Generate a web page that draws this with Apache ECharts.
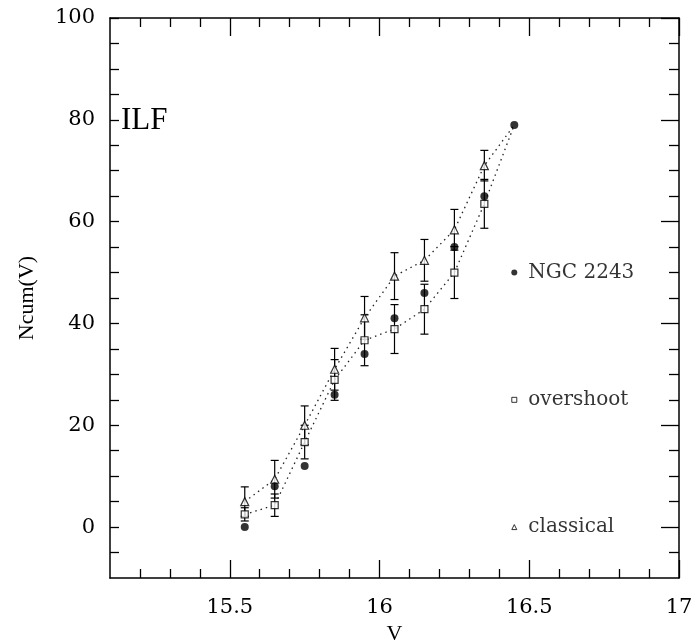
<!DOCTYPE html>
<html>
<head>
  <meta charset="UTF-8">
  <title>ILF - Ncum(V)</title>
  <script src="https://cdn.jsdelivr.net/npm/echarts@6/dist/echarts.min.js"></script>
  <style>
    html, body { margin: 0; padding: 0; background: #fff; }
    #chart { width: 696px; height: 643px; }
  </style>
</head>
<body>
  <div id="chart"></div>
  <script>
    // magnitude bins
    const vBins = [15.55, 15.65, 15.75, 15.85, 15.95, 16.05, 16.15, 16.25, 16.35, 16.45];
    // NGC 2243 observed counts (filled dots)
    const ngcCounts = [0, 8, 12, 26, 34, 41, 46, 55, 65, 79];
    // overshoot models (squares) and their errors
    const overshootCounts = [2.5, 4.3, 16.7, 28.9, 36.7, 38.9, 42.8, 50.0, 63.5, 79];
    const overshootErr = [1.3, 2.2, 3.3, 4.0, 5.0, 4.8, 4.9, 5.1, 4.8];
    // classical models (triangles) and their errors
    const classicalCounts = [5.0, 9.4, 20.0, 31.0, 41.1, 49.3, 52.4, 58.4, 71.0, 79];
    const classicalErr = [2.9, 3.7, 3.8, 4.1, 4.2, 4.6, 4.1, 4.0, 3.0];

    // in-plot legend
    const legendNames = ['NGC 2243', 'overshoot', 'classical'];
    const legendX = 16.45;
    const legendY = [50, 25, 0];

    // ticks
    const xMajor = [15.5, 16, 16.5, 17];
    const xMinor = [15.2, 15.3, 15.4, 15.6, 15.7, 15.8, 15.9, 16.1, 16.2, 16.3, 16.4, 16.6, 16.7, 16.8, 16.9];
    const yMajor = [0, 20, 40, 60, 80, 100];
    const yMinor = [-5, 5, 10, 15, 25, 30, 35, 45, 50, 55, 65, 70, 75, 85, 90, 95];
    const yAll = [-5, 0, 5, 10, 15, 20, 25, 30, 35, 40, 45, 50, 55, 60, 65, 70, 75, 80, 85, 90, 95, 100];

    const numFont = 'DejaVu Serif';
    const txtFont = 'Liberation Serif';

    function errData(vals, errs) {
      return errs.map((e, i) => [vBins[i], vals[i] - e, vals[i] + e]);
    }

    function renderErr(params, api) {
      const x = api.value(0);
      const p1 = api.coord([x, api.value(2)]);
      const p2 = api.coord([x, api.value(1)]);
      const w = 4;
      const st = { stroke: '#000', lineWidth: 1.2 };
      return {
        type: 'group',
        children: [
          { type: 'line', shape: { x1: p1[0], y1: p1[1], x2: p2[0], y2: p2[1] }, style: st },
          { type: 'line', shape: { x1: p1[0] - w, y1: p1[1], x2: p1[0] + w, y2: p1[1] }, style: st },
          { type: 'line', shape: { x1: p2[0] - w, y1: p2[1], x2: p2[0] + w, y2: p2[1] }, style: st }
        ]
      };
    }

    function xAxisDef(pos, vals, len, labels) {
      return {
        type: 'value', position: pos, min: 15.1, max: 17,
        axisLine: { show: labels, onZero: false, lineStyle: { color: '#000', width: 1.5 } },
        axisTick: { show: true, inside: true, length: len, customValues: vals, lineStyle: { color: '#000', width: 1.3 } },
        axisLabel: labels ? { show: true, customValues: vals, margin: 19, color: '#000', fontFamily: numFont, fontSize: 21 } : { show: false },
        splitLine: { show: false }
      };
    }

    function yAxisDef(pos, vals, len, labels) {
      return {
        type: 'value', position: pos, min: -10, max: 100,
        axisLine: { show: labels || pos === 'right' && len > 12, onZero: false, lineStyle: { color: '#000', width: 1.5 } },
        axisTick: { show: true, inside: true, length: len, customValues: vals, lineStyle: { color: '#000', width: 1.3 } },
        axisLabel: labels ? { show: true, customValues: yMajor, margin: 15, color: '#000', fontFamily: numFont, fontSize: 21 } : { show: false },
        splitLine: { show: false }
      };
    }

    const xAxes = [
      xAxisDef('bottom', xMajor, 18, true),
      xAxisDef('bottom', xMinor, 9, false),
      xAxisDef('top', xMajor, 18, false),
      xAxisDef('top', xMinor, 9, false)
    ];
    xAxes[0].name = 'V';
    xAxes[0].nameLocation = 'middle';
    xAxes[0].nameGap = 42;
    xAxes[0].nameTextStyle = { color: '#000', fontFamily: txtFont, fontSize: 22 };
    xAxes[2].axisLine.show = true;

    const yAxes = [
      yAxisDef('left', yAll, 9, true),
      yAxisDef('right', yMajor, 18, false),
      yAxisDef('right', yMinor, 10, false)
    ];
    yAxes[0].name = 'Ncum(V)';
    yAxes[0].nameLocation = 'middle';
    yAxes[0].nameGap = 72;
    yAxes[0].nameTextStyle = { color: '#000', fontFamily: txtFont, fontSize: 22 };

    const chart = echarts.init(document.getElementById('chart'));
    chart.setOption({
      animation: false,
      backgroundColor: '#fff',
      grid: { left: 110, right: 17, top: 18, bottom: 65, outerBoundsMode: 'none' },
      xAxis: xAxes,
      yAxis: yAxes,
      graphic: [{
        type: 'text', left: 121, top: 105,
        style: { text: 'ILF', fill: '#000', font: '31px "Liberation Serif"' }
      }],
      series: [
        {
          type: 'line', data: vBins.map((v, i) => [v, overshootCounts[i]]),
          showSymbol: false, lineStyle: { color: '#222', width: 1.3, type: [1.5, 4] }, z: 2
        },
        {
          type: 'line', data: vBins.map((v, i) => [v, classicalCounts[i]]),
          showSymbol: false, lineStyle: { color: '#222', width: 1.3, type: [1.5, 4] }, z: 2
        },
        { type: 'custom', renderItem: renderErr, data: errData(overshootCounts, overshootErr), z: 3 },
        { type: 'custom', renderItem: renderErr, data: errData(classicalCounts, classicalErr), z: 3 },
        {
          type: 'scatter', data: vBins.slice(0, 9).map((v, i) => [v, overshootCounts[i]]),
          symbol: 'rect', symbolSize: 7, itemStyle: { color: '#fff', borderColor: '#000', borderWidth: 1.2 }, z: 4
        },
        {
          type: 'scatter', data: vBins.slice(0, 9).map((v, i) => [v, classicalCounts[i]]),
          symbol: 'triangle', symbolSize: 8, itemStyle: { color: '#fff', borderColor: '#000', borderWidth: 1.2 }, z: 4
        },
        {
          type: 'scatter', data: vBins.map((v, i) => [v, ngcCounts[i]]),
          symbol: 'circle', symbolSize: 8, itemStyle: { color: '#000' }, z: 5
        },
        {
          type: 'scatter',
          data: legendNames.map((n, i) => ({
            value: [legendX, legendY[i]], name: n,
            symbol: ['circle', 'rect', 'triangle'][i],
            symbolSize: [6, 5, 5][i],
            itemStyle: i === 0 ? { color: '#000' } : { color: '#fff', borderColor: '#000', borderWidth: 1 }
          })),
          label: {
            show: true, position: 'right', distance: 11, formatter: p => p.name,
            color: '#000', fontFamily: numFont, fontSize: 20
          },
          z: 5
        }
      ]
    });
  </script>
</body>
</html>
